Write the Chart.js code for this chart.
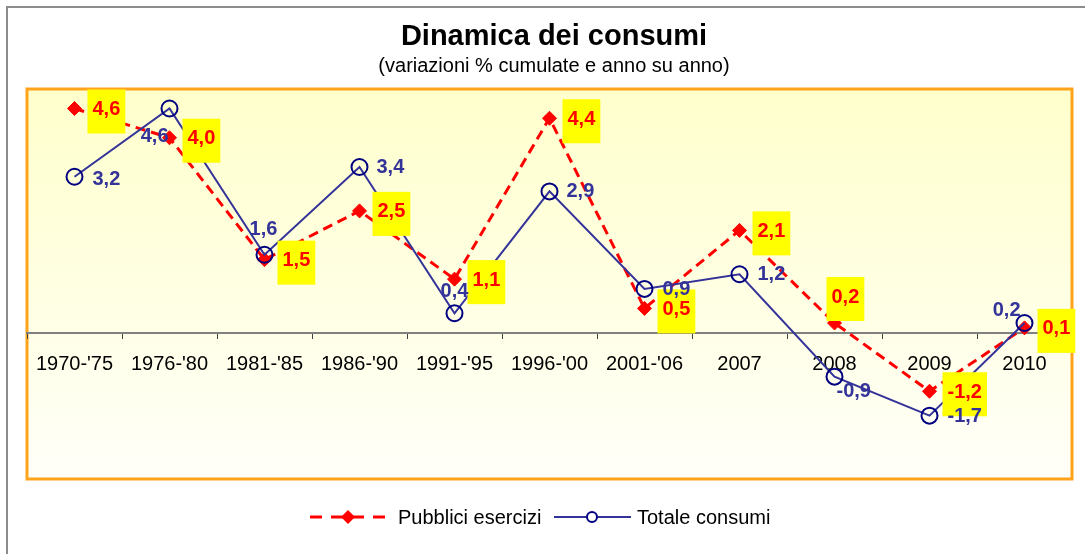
<!DOCTYPE html>
<html>
<head>
<meta charset="utf-8">
<script src="https://cdn.jsdelivr.net/npm/chart.js@4/dist/chart.umd.min.js"></script>
<style>
  html, body { margin: 0; padding: 0; background: #fff; }
  #wrap { width: 1085px; height: 554px; }
</style>
</head>
<body>
<div id="wrap"><canvas id="chart" width="1085" height="554"></canvas></div>
<script>
const categories = ["1970-'75", "1976-'80", "1981-'85", "1986-'90", "1991-'95", "1996-'00", "2001-'06", "2007", "2008", "2009", "2010"];
const pubbliciEsercizi = [4.6, 4.0, 1.5, 2.5, 1.1, 4.4, 0.5, 2.1, 0.2, -1.2, 0.1];
const totaleConsumi = [3.2, 4.6, 1.6, 3.4, 0.4, 2.9, 0.9, 1.2, -0.9, -1.7, 0.2];
const seriesNames = ["Pubblici esercizi", "Totale consumi"];

// where each value label sits relative to its point: [dx, dy, align]
const redLabelPos = [
  [13, 0], [13, 0], [13, 0], [13, 0], [13, 0], [13, 0], [13, 0], [13, 0], [-8, -27], [13, 0], [13, 0]
];
const blueLabelPos = [
  [18, 2, 'left'], [-1, 27, 'right'], [-1, -26, 'center'], [17, -1, 'left'], [0, -23, 'center'],
  [17, -1, 'left'], [18, 0, 'left'], [18, -1, 'left'], [2, 14, 'left'], [18, 0, 'left'], [-4, -14, 'right']
];

const FONT = '"Liberation Sans", Arial, sans-serif';
const RED = '#ff0000';
const BLUE = '#333399';
const NAVY = '#000080';

const fmt = v => v.toFixed(1).replace('.', ',');

const backdrop = {
  id: 'backdrop',
  beforeDraw(chart) {
    const { ctx, chartArea: a } = chart;
    ctx.save();
    // outer frame
    ctx.strokeStyle = '#8c8c8c';
    ctx.lineWidth = 2;
    ctx.beginPath();
    ctx.moveTo(7, 554);
    ctx.lineTo(7, 7);
    ctx.lineTo(1085, 7);
    ctx.stroke();
    // plot area
    const g = ctx.createLinearGradient(0, a.top, 0, a.bottom);
    g.addColorStop(0, '#ffffcc');
    g.addColorStop(1, '#fffff9');
    ctx.fillStyle = g;
    ctx.fillRect(a.left, a.top, a.right - a.left, a.bottom - a.top);
    ctx.strokeStyle = '#ffa31a';
    ctx.lineWidth = 3;
    ctx.strokeRect(a.left, a.top, a.right - a.left, a.bottom - a.top);
    // titles
    ctx.fillStyle = '#000';
    ctx.textAlign = 'center';
    ctx.textBaseline = 'alphabetic';
    ctx.font = 'bold 29px ' + FONT;
    ctx.fillText('Dinamica dei consumi', 554, 45);
    ctx.font = '20px ' + FONT;
    ctx.fillText('(variazioni % cumulate e anno su anno)', 554, 72);
    ctx.restore();
  }
};

const valueLabels = {
  id: 'valueLabels',
  afterDatasetsDraw(chart) {
    const { ctx } = chart;
    ctx.save();
    ctx.font = 'bold 20px ' + FONT;
    ctx.textBaseline = 'middle';

    const red = chart.getDatasetMeta(0).data;
    red.forEach((pt, i) => {
      const txt = fmt(pubbliciEsercizi[i]);
      const w = ctx.measureText(txt).width;
      const bx = pt.x + redLabelPos[i][0];
      const ty = pt.y + redLabelPos[i][1];
      ctx.fillStyle = '#ffff00';
      ctx.fillRect(bx, ty - 19, w + 10, 44);
      ctx.fillStyle = RED;
      ctx.textAlign = 'left';
      ctx.fillText(txt, bx + 5, ty + 1);
    });

    const blue = chart.getDatasetMeta(1).data;
    blue.forEach((pt, i) => {
      const [dx, dy, align] = blueLabelPos[i];
      ctx.fillStyle = BLUE;
      ctx.textAlign = align;
      ctx.fillText(fmt(totaleConsumi[i]), pt.x + dx, pt.y + dy + 1);
    });
    ctx.restore();
  }
};

const legendBox = {
  id: 'legendBox',
  afterDraw(chart) {
    const { ctx } = chart;
    const y = 517;
    ctx.save();
    // Pubblici esercizi
    ctx.strokeStyle = RED;
    ctx.lineWidth = 3;
    ctx.setLineDash([12, 9]);
    ctx.beginPath();
    ctx.moveTo(310, y);
    ctx.lineTo(388, y);
    ctx.stroke();
    ctx.setLineDash([]);
    ctx.fillStyle = RED;
    ctx.beginPath();
    ctx.moveTo(348, y - 7);
    ctx.lineTo(355, y);
    ctx.lineTo(348, y + 7);
    ctx.lineTo(341, y);
    ctx.closePath();
    ctx.fill();
    // Totale consumi
    ctx.strokeStyle = BLUE;
    ctx.lineWidth = 2;
    ctx.beginPath();
    ctx.moveTo(554, y);
    ctx.lineTo(631, y);
    ctx.stroke();
    ctx.strokeStyle = NAVY;
    ctx.fillStyle = '#fff';
    ctx.beginPath();
    ctx.arc(592, y, 5, 0, Math.PI * 2);
    ctx.fill();
    ctx.stroke();
    // text
    ctx.fillStyle = '#000';
    ctx.font = '20px ' + FONT;
    ctx.textAlign = 'left';
    ctx.textBaseline = 'middle';
    ctx.fillText(seriesNames[0], 398, y + 1);
    ctx.fillText(seriesNames[1], 637, y + 1);
    ctx.restore();
  }
};

new Chart(document.getElementById('chart').getContext('2d'), {
  type: 'line',
  data: {
    labels: categories,
    datasets: [{
      label: seriesNames[0],
      data: pubbliciEsercizi,
      borderColor: RED,
      borderWidth: 3,
      borderDash: [10, 6],
      pointStyle: 'rectRot',
      pointRadius: 7,
      pointBackgroundColor: RED,
      pointBorderColor: RED,
      pointBorderWidth: 1,
      tension: 0,
      order: 2
    }, {
      label: seriesNames[1],
      data: totaleConsumi,
      borderColor: BLUE,
      borderWidth: 2,
      pointStyle: 'circle',
      pointRadius: 8,
      pointBackgroundColor: 'rgba(0,0,0,0)',
      pointBorderColor: NAVY,
      pointBorderWidth: 2,
      tension: 0,
      order: 1
    }]
  },
  options: {
    responsive: false,
    animation: false,
    layout: { padding: { left: 27, top: 89, right: 13, bottom: 75 } },
    plugins: {
      legend: { display: false },
      title: { display: false },
      tooltip: { enabled: false }
    },
    scales: {
      x: {
        position: { y: 0 },
        offset: true,
        grid: { offset: true, drawOnChartArea: false, drawTicks: true, tickLength: 5, tickColor: '#404040', tickWidth: 1 },
        border: { color: '#808080', width: 2 },
        ticks: { color: '#000', font: { family: FONT, size: 20 }, padding: 15, maxRotation: 0, autoSkip: false }
      },
      y: {
        display: false,
        min: -3,
        max: 5
      }
    }
  },
  plugins: [backdrop, valueLabels, legendBox]
});
</script>
</body>
</html>
